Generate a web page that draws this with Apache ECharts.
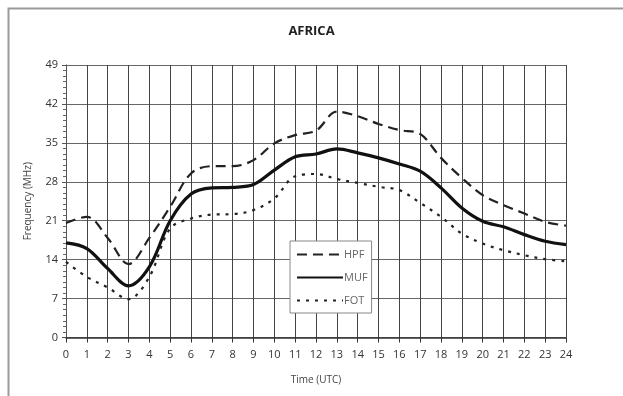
<!DOCTYPE html>
<html><head><meta charset="utf-8">
<script src="https://cdn.jsdelivr.net/npm/echarts@6/dist/echarts.min.js"></script>
<style>html,body{margin:0;padding:0;background:#fff}#c{width:623px;height:396px}</style>
</head><body><div id="c"></div>
<script>
const hours = [0,1,2,3,4,5,6,7,8,9,10,11,12,13,14,15,16,17,18,19,20,21,22,23,24];
const hpf = [20.6,21.7,17.9,13.2,17.9,23.5,29.5,30.8,30.8,31.9,34.9,36.4,37.2,40.6,39.8,38.4,37.3,36.6,32.3,28.7,25.6,23.8,22.3,20.8,20.1];
const muf = [17.0,16.0,12.4,9.3,12.7,21.0,25.8,26.9,27.0,27.5,30.1,32.5,33.0,33.9,33.2,32.3,31.2,29.9,26.9,23.3,20.9,19.9,18.5,17.3,16.7];
const fot = [13.6,10.9,9.0,6.9,10.9,19.6,21.4,22.1,22.2,22.9,25.0,29.0,29.4,28.5,27.8,27.1,26.5,24.2,21.7,18.7,16.9,15.7,14.8,14.1,13.7];
const seriesNames = ['HPF','MUF','FOT'];
const yTicks = [0,7,14,21,28,35,42,49];

const font = '"Open Sans", "DejaVu Sans", sans-serif';
const chart = echarts.init(document.getElementById('c'), null, {renderer:'canvas'});
const pair = a => hours.map((h,i)=>[h,a[i]]);
chart.setOption({
  animation:false,
  backgroundColor:'#fff',
  title:{text:'AFRICA', left:'center', top:20, textStyle:{fontFamily:font, fontSize:13, fontWeight:'bold', color:'#222'}},
  graphic:[{type:'polyline', shape:{points:[[8.5,396],[8.5,8.5],[623,8.5]]}, style:{stroke:'#9a9a9a', lineWidth:2, fill:null}}],
  grid:{left:66, right:57, top:65, bottom:58.5},
  legend:{
    orient:'vertical', left:290, top:241, data:seriesNames,
    itemWidth:46, itemHeight:10, itemGap:12,
    itemStyle:{opacity:0},
    backgroundColor:'#fff', borderColor:'#888', borderWidth:1, padding:[8,4,7,6],
    textStyle:{fontFamily:font, fontSize:11, color:'#666', padding:[0,0,0,-4]}
  },
  xAxis:{
    type:'value', min:0, max:24, interval:1,
    name:'Time (UTC)', nameLocation:'middle', nameGap:38,
    nameTextStyle:{fontFamily:font, fontSize:10, color:'#444'},
    axisLine:{lineStyle:{color:'#333', width:1.5}},
    axisTick:{show:true, length:5, lineStyle:{color:'#333'}},
    axisLabel:{fontFamily:font, fontSize:11, color:'#333', margin:12},
    splitLine:{show:true, lineStyle:{color:'#444', width:1}}
  },
  yAxis:{
    type:'value', min:0, max:49, interval:7,
    name:'Frequency (MHz)', nameLocation:'middle', nameGap:33,
    nameTextStyle:{fontFamily:font, fontSize:10, color:'#444'},
    axisLine:{show:true, lineStyle:{color:'#555', width:1}},
    axisTick:{show:true, length:4, lineStyle:{color:'#555'}},
    minorTick:{show:true, splitNumber:7, length:3, lineStyle:{color:'#666'}},
    axisLabel:{fontFamily:font, fontSize:11, color:'#333', margin:8},
    splitLine:{show:true, lineStyle:{color:'#666', width:1}}
  },
  series:[
    {name:'HPF', type:'line', data:pair(hpf), smooth:0.35, symbol:'none', lineStyle:{color:'#222', width:2.2, type:[10,6]}, itemStyle:{color:'#222'}},
    {name:'MUF', type:'line', data:pair(muf), smooth:0.35, symbol:'none', lineStyle:{color:'#111', width:3.2}, itemStyle:{color:'#111'}},
    {name:'FOT', type:'line', data:pair(fot), smooth:0.35, symbol:'none', lineStyle:{color:'#222', width:2.2, type:[3,6]}, itemStyle:{color:'#222'}}
  ]
});
</script></body></html>
